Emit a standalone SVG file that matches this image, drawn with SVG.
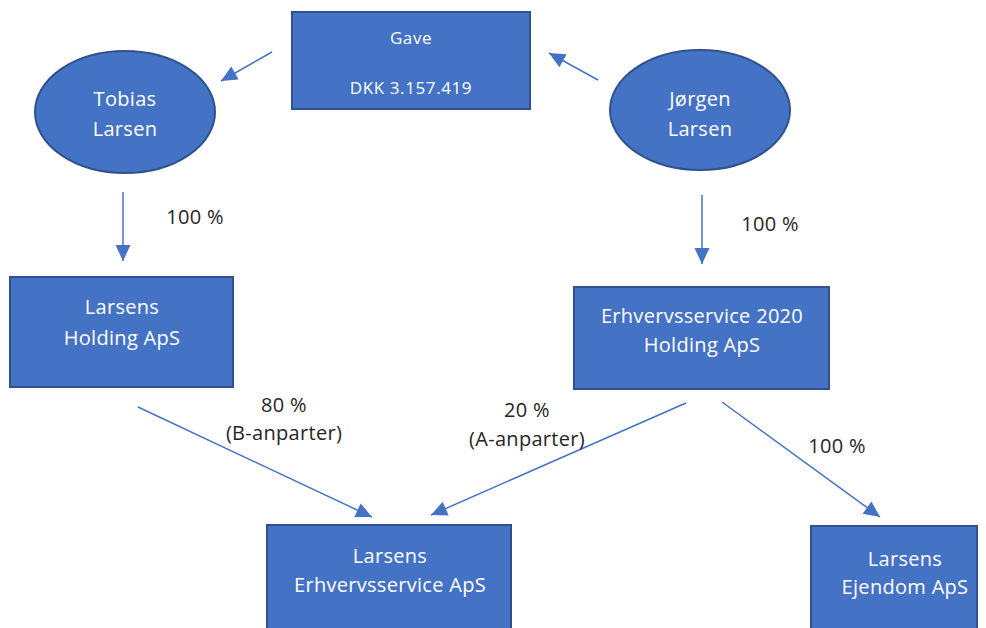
<svg xmlns="http://www.w3.org/2000/svg" width="986" height="628" viewBox="0 0 986 628">
  <defs>
    <marker id="arrow" viewBox="0 0 16 15" refX="16" refY="7.5" markerWidth="16" markerHeight="15" markerUnits="userSpaceOnUse" orient="auto" overflow="visible">
      <path d="M0,0 L16,7.5 L0,15 Z" fill="#4472C4" />
    </marker>
    <style>
      .box { fill: #4472C4; stroke: #2F528F; stroke-width: 2; }
      .node-text { font-family: "Open Sans", "Liberation Sans", sans-serif; font-size: 20px; fill: #FFFFFF; text-anchor: middle; letter-spacing: 0.3px; }
      .small-text { font-size: 17px; letter-spacing: 0.6px; }
      .label { font-family: "Open Sans", "Liberation Sans", sans-serif; font-size: 20px; fill: #262626; text-anchor: middle; letter-spacing: 0.3px; }
      .edge { stroke: #4472C4; stroke-width: 1.5; fill: none; }
    </style>
  </defs>
  <rect width="986" height="628" fill="#FFFFFF" />

  <!-- ownership and gift connectors -->
  <g id="connectors">
    <line class="edge" x1="272" y1="52" x2="221" y2="81" marker-end="url(#arrow)" />
    <line class="edge" x1="598" y1="80" x2="549" y2="53" marker-end="url(#arrow)" />
    <line class="edge" x1="123" y1="192" x2="123" y2="261" marker-end="url(#arrow)" />
    <line class="edge" x1="702" y1="195" x2="702" y2="264" marker-end="url(#arrow)" />
    <line class="edge" x1="138" y1="407" x2="372" y2="517" marker-end="url(#arrow)" />
    <line class="edge" x1="686" y1="403" x2="431" y2="515" marker-end="url(#arrow)" />
    <line class="edge" x1="722" y1="402" x2="880" y2="517" marker-end="url(#arrow)" />
  </g>

  <!-- edge labels -->
  <g id="labels">
    <text class="label" x="195" y="224">100 %</text>
    <text class="label" x="770" y="231">100 %</text>
    <text class="label" x="284" y="412">80 %</text>
    <text class="label" x="284" y="440">(B-anparter)</text>
    <text class="label" x="527" y="417">20 %</text>
    <text class="label" x="527" y="446">(A-anparter)</text>
    <text class="label" x="837" y="453">100 %</text>
  </g>

  <g id="gave">
    <rect class="box" x="292" y="12" width="238" height="97" />
    <text class="node-text small-text" x="411" y="44">Gave</text>
    <text class="node-text small-text" x="411" y="94">DKK 3.157.419</text>
  </g>

  <g id="tobias-larsen">
    <ellipse class="box" cx="125" cy="112" rx="90" ry="61" />
    <text class="node-text" x="125" y="106">Tobias</text>
    <text class="node-text" x="125" y="136">Larsen</text>
  </g>

  <g id="jorgen-larsen">
    <ellipse class="box" cx="700" cy="110" rx="90" ry="60" />
    <text class="node-text" x="700" y="106">Jørgen</text>
    <text class="node-text" x="700" y="136">Larsen</text>
  </g>

  <g id="larsens-holding">
    <rect class="box" x="10" y="277" width="223" height="110" />
    <text class="node-text" x="122" y="314">Larsens</text>
    <text class="node-text" x="122" y="345">Holding ApS</text>
  </g>

  <g id="erhvervsservice-2020-holding">
    <rect class="box" x="574" y="287" width="255" height="102" />
    <text class="node-text" x="702" y="323">Erhvervsservice 2020</text>
    <text class="node-text" x="702" y="352">Holding ApS</text>
  </g>

  <g id="larsens-erhvervsservice">
    <rect class="box" x="267" y="525" width="244" height="110" />
    <text class="node-text" x="390" y="563">Larsens</text>
    <text class="node-text" x="390" y="592">Erhvervsservice ApS</text>
  </g>

  <g id="larsens-ejendom">
    <rect class="box" x="811" y="526" width="166" height="110" />
    <text class="node-text" x="905" y="566">Larsens</text>
    <text class="node-text" x="905" y="594">Ejendom ApS</text>
  </g>
</svg>
